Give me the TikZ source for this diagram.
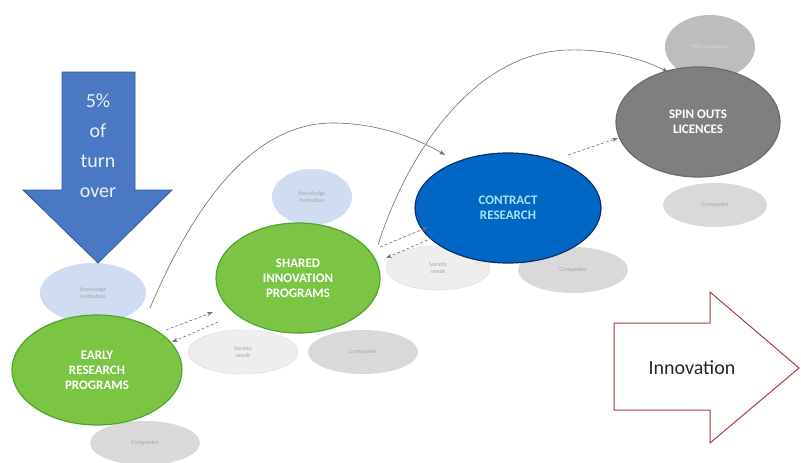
\documentclass[tikz,border=0pt]{standalone}
\usepackage{fontspec}
\setmainfont{Carlito}
\usetikzlibrary{shapes.geometric,arrows.meta}
\definecolor{grn}{HTML}{7CC444}
\definecolor{grnd}{HTML}{4FA52E}
\definecolor{cblue}{HTML}{0068C4}
\definecolor{cblued}{HTML}{0B2F6B}
\definecolor{ctext}{HTML}{A8E0F6}
\definecolor{abl}{HTML}{4A78C2}
\definecolor{abld}{HTML}{33599B}
\definecolor{kn}{HTML}{CFDCF1}
\definecolor{cg}{HTML}{D9D9D9}
\definecolor{sn}{HTML}{EEEEEE}
\definecolor{tno}{HTML}{BDBDBD}
\definecolor{spin}{HTML}{7F7F7F}
\definecolor{inn}{HTML}{A8403C}
\definecolor{conn}{HTML}{6E6E6E}
\tikzset{
  ell/.style={ellipse, inner sep=0pt, align=center},
  mainell/.style={ell, line width=1.2pt, font=\bfseries\fontsize{13}{15}\selectfont},
  smallell/.style={ell, font=\fontsize{6}{7}\selectfont, text=black!35},
  conarrow/.style={draw=conn, line width=0.6pt, -{Stealth[length=6pt,width=4pt]}},
  shortarrow/.style={conarrow, densely dashed},
}
\begin{document}
\begin{tikzpicture}[x=1pt,y=-1pt]
\useasboundingbox (0,0) rectangle (801,463);
\fill[white] (0,0) rectangle (801,463);

% small ellipses (background)
\node[smallell, fill=kn, minimum width=106pt, minimum height=60pt] (k1) at (93,293) {Knowledge\\Institution};
\node[smallell, fill=kn, minimum width=80pt, minimum height=56pt] (k2) at (312,197) {Knowledge\\Institution};
\node[smallell, fill=cg, minimum width=110pt, minimum height=44pt] (c1) at (145,443) {Companies};
\node[smallell, fill=sn, draw=cg, minimum width=110pt, minimum height=44pt] (s1) at (243,352) {Society\\needs};
\node[smallell, fill=cg, minimum width=110pt, minimum height=44pt] (c2) at (363,352) {Companies};
\node[smallell, fill=sn, draw=cg, minimum width=104pt, minimum height=44pt] (s2) at (438,268) {Society\\needs};
\node[smallell, fill=cg, minimum width=110pt, minimum height=46pt] (c3) at (573,270) {Companies};
\node[smallell, fill=tno, text=white!85!black, minimum width=90pt, minimum height=64pt] (tno) at (710,47) {TNO companies};
\node[smallell, fill=cg, minimum width=104pt, minimum height=44pt] (c4) at (715,205) {Companies};

% main ellipses
\node[mainell, fill=grn, draw=grnd, text=white, minimum width=170pt, minimum height=110pt] (early) at (97,370) {EARLY\\RESEARCH\\PROGRAMS};
\node[mainell, fill=grn, draw=grnd, text=white, minimum width=164pt, minimum height=110pt] (shared) at (298,278) {SHARED\\INNOVATION\\PROGRAMS};
\node[mainell, fill=cblue, draw=cblued, text=ctext, minimum width=186pt, minimum height=110pt] (contract) at (508,208) {CONTRACT\\RESEARCH};
\node[mainell, fill=spin, draw=spin!85!black, text=white, minimum width=164pt, minimum height=110pt] (spin) at (698,122) {SPIN OUTS\\LICENCES};

% big down arrow
\draw[fill=abl, draw=abld, line width=0.8pt] (62,72) -- (135,72) -- (135,190) -- (172,190) -- (98,263) -- (23,190) -- (62,190) -- cycle;
\node[align=center, text=white!88!abl, font=\fontsize{20}{30}\selectfont] (pct) at (98,146) {5\%\\of\\turn\\over};

% innovation arrow
\draw[fill=white, draw=inn, line width=1pt] (614,323) -- (710,323) -- (710,292) -- (799,368) -- (710,443) -- (710,410) -- (614,410) -- cycle;
\node[font=\fontsize{20}{24}\selectfont, text=black!85] (innov) at (692,368) {Innovation};

% short connector coordinates
\coordinate (e1) at (166,330); \coordinate (sh1) at (213,312);
\coordinate (sh2) at (218,322); \coordinate (e2) at (172,342);
\coordinate (sh3) at (380,247); \coordinate (ct1) at (428,227);
\coordinate (ct2) at (432,238); \coordinate (sh4) at (386,258);
\coordinate (ct3) at (568,155); \coordinate (sp1) at (618,138);
\draw[shortarrow] (e1) -- (sh1);
\draw[shortarrow] (sh2) -- (e2);
\draw[shortarrow] (sh3) -- (ct1);
\draw[shortarrow] (ct2) -- (sh4);
\draw[shortarrow] (ct3) -- (sp1);

% long curves
\coordinate (cs1) at (150,308); \coordinate (ce1) at (445,155);
\coordinate (cs2) at (378,245); \coordinate (ce2) at (668,72);
\draw[conarrow] (cs1) .. controls (200,190) and (260,123) .. (333,123) .. controls (380,123) and (420,140) .. (ce1);
\draw[conarrow] (cs2) .. controls (405,160) and (470,52) .. (569,50) .. controls (610,49) and (645,60) .. (ce2);
\end{tikzpicture}
\end{document}
